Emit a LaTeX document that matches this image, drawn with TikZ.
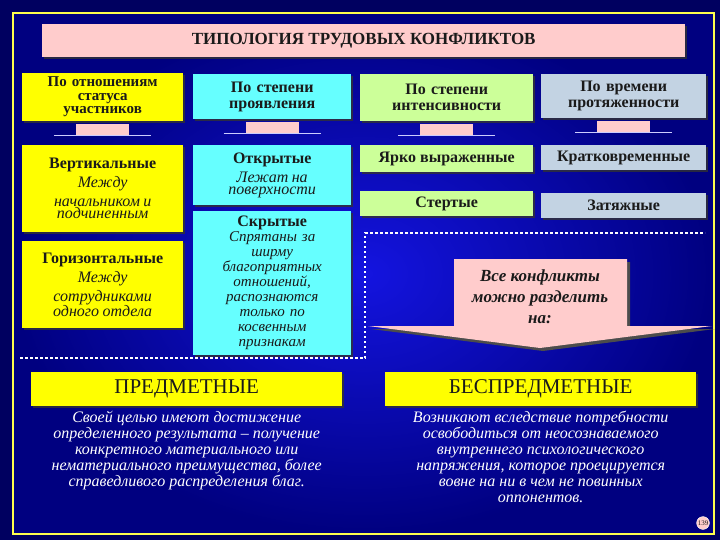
\documentclass[tikz,border=0pt]{standalone}
\usepackage{fontspec}
\setmainfont{Liberation Serif}
\usetikzlibrary{shadows}
\definecolor{navy}{HTML}{000060}
\definecolor{midb}{HTML}{1414E0}
\definecolor{ye}{HTML}{FFFF00}
\definecolor{cy}{HTML}{66FFFF}
\definecolor{gr}{HTML}{CCFF99}
\definecolor{gy}{HTML}{C3D3E3}
\definecolor{pk}{HTML}{FFCCCC}
\definecolor{tx}{HTML}{1A1A1A}
\newcommand\hdf{\bfseries\fontsize{16}{16}\selectfont}
\newcommand\itf{\itshape\fontsize{16}{19}\selectfont}
\tikzset{
 box/.style={anchor=north west,inner sep=1pt,align=center,text=tx,drop shadow={shadow xshift=2pt,shadow yshift=-2pt,fill=black!80,opacity=0.8}},
 hd/.style={font=\hdf},
 pkarr/.style={fill=pk,draw=none,minimum width=53pt,minimum height=12pt,inner sep=0pt,anchor=north},
 dots/.style={white!85,line width=2.5pt,dash pattern=on 2.5pt off 2.5pt}
}
\begin{document}
\begin{tikzpicture}[x=1pt,y=-1pt]
\useasboundingbox (0,0) rectangle (720,540);
\fill[navy] (0,0) rectangle (720,540);
\shade[inner color=midb,outer color=navy!80!blue] (13,13) rectangle (714,534);
\draw[ye!70!white,line width=1.2pt] (13,13) rectangle (714,534);
\node[box,fill=pk,minimum width=643pt,minimum height=33pt,font=\bfseries\fontsize{17}{17}\selectfont] (title) at (42,24) {ТИПОЛОГИЯ ТРУДОВЫХ КОНФЛИКТОВ};
% headers
\node[box,fill=ye,minimum width=161pt,minimum height=48pt,text width=159pt,font=\bfseries\fontsize{15}{13.5}\selectfont] (h1) at (22,73) {По отношениям\\статуса\\участников};
\node[box,fill=cy,minimum width=158pt,minimum height=45pt,text width=152pt,hd] (h2) at (193,74) {По степени\\проявления};
\node[box,fill=gr,minimum width=173pt,minimum height=47pt,text width=167pt,hd] (h3) at (360,74) {По степени\\интенсивности};
\node[box,fill=gy,minimum width=165pt,minimum height=44pt,text width=159pt,hd] (h4) at (541,74) {По времени\\протяженности};
% small arrows
\foreach \h/\n in {h1/a1,h2/a2,h3/a3,h4/a4}{
 \node[pkarr,yshift=-2pt] (\n) at (\h.south) {};
 \draw[white!80!blue,line width=1.2pt] ([xshift=-22pt]\n.south west) -- ([xshift=22pt]\n.south east);
}
% items
\node[box,fill=ye,minimum width=161pt,minimum height=87pt,text width=159pt] (v) at (22,145) {{\hdf Вертикальные}\\{\itf Между\\начальником и\\подчиненным}};
\node[box,fill=ye,minimum width=161pt,minimum height=87pt,text width=159pt] (g) at (22,241) {{\hdf Горизонтальные}\\{\itf Между\\сотрудниками\\одного отдела}};
\node[box,fill=cy,minimum width=158pt,minimum height=60pt,text width=152pt] (o) at (193,145) {{\hdf Открытые}\\{\itf Лежат на\\поверхности}};
\node[box,fill=cy,minimum width=158pt,minimum height=144pt,text width=152pt,font=\fontsize{15}{15}\selectfont] (s) at (193,211) {{\hdf Скрытые}\\{\itshape\fontsize{15}{15}\selectfont Спрятаны за\\ширму\\благоприятных\\отношений,\\распознаются\\только по\\косвенным\\признакам}};
\node[box,fill=gr,minimum width=173pt,minimum height=27pt,hd] (y) at (360,145) {Ярко выраженные};
\node[box,fill=gr,minimum width=173pt,minimum height=25pt,hd] (st) at (360,191) {Стертые};
\node[box,fill=gy,minimum width=165pt,minimum height=25pt,hd] (k) at (541,145) {Кратковременные};
\node[box,fill=gy,minimum width=165pt,minimum height=25pt,hd] (z) at (541,193) {Затяжные};
% dotted
\coordinate (d1) at (20,358); \coordinate (d2) at (365,358);
\coordinate (d3) at (365,233); \coordinate (d4) at (705,233);
\draw[dots] (d1) -- (d2) -- (d3) -- (d4);
% big arrow
\fill[black!70] (457,262) -- (630,262) -- (630,329) -- (715,329) -- (543,351) -- (371,329) -- (457,329) -- cycle;
\fill[pk] (454,259) -- (627,259) -- (627,326) -- (712,326) -- (540,348) -- (368,326) -- (454,326) -- cycle;
\node[font=\bfseries\itshape\fontsize{17}{21}\selectfont,text=tx,align=center] (all) at (540,297) {Все конфликты\\можно разделить\\на:};
% bottom
\node[box,fill=ye,minimum width=311pt,minimum height=34pt,font=\fontsize{21}{21}\selectfont] (p) at (31,372) {ПРЕДМЕТНЫЕ};
\node[box,fill=ye,minimum width=311pt,minimum height=34pt,font=\fontsize{21}{21}\selectfont] (b) at (385,372) {БЕСПРЕДМЕТНЫЕ};
\node[anchor=north,text=white,align=center,font=\itshape\fontsize{16}{16}\selectfont] (pt) at ([yshift=-1pt]p.south) {Своей целью имеют достижение\\определенного результата – получение\\конкретного материального или\\нематериального преимущества, более\\справедливого распределения благ.};
\node[anchor=north,text=white,align=center,font=\itshape\fontsize{16}{16}\selectfont] (bt) at ([yshift=-1pt]b.south) {Возникают вследствие потребности\\освободиться от неосознаваемого\\внутреннего психологического\\напряжения, которое проецируется\\вовне на ни в чем не повинных\\оппонентов.};
\node[circle,fill=pk,draw=white,inner sep=0.5pt,font=\fontsize{7}{7}\selectfont,text=tx] (num) at (703,523) {139};
\end{tikzpicture}
\end{document}
